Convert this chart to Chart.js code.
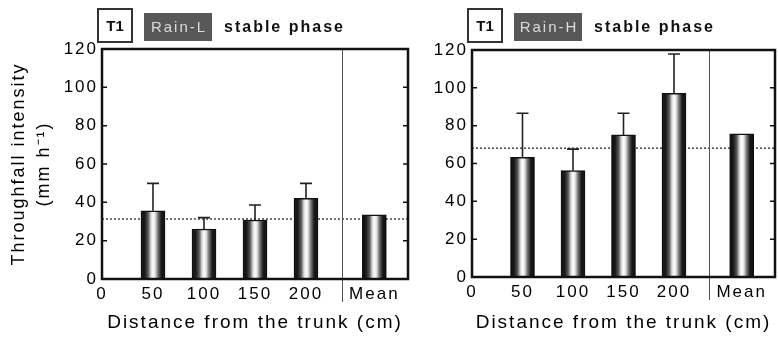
<!DOCTYPE html>
<html>
<head>
<meta charset="utf-8">
<title>Throughfall intensity - stable phase</title>
<script src="https://cdn.jsdelivr.net/npm/chart.js@4.4.1/dist/chart.umd.min.js"></script>
<style>
    body { margin: 0; background: #fff; }
    #wrap { position: relative; width: 778px; height: 339px; }
    canvas { position: absolute; top: 0; }
</style>
</head>
<body>
<div id="wrap">
    <canvas id="chartL" width="420" height="339" style="left:0"></canvas>
    <canvas id="chartH" width="358" height="339" style="left:420px"></canvas>
</div>
<script>
// Distances from the trunk (cm) and axis ticks
const distances = [50, 100, 150, 200];
const xTickValues = [0, 50, 100, 150, 200];
const yTickValues = [0, 20, 40, 60, 80, 100, 120];
const meanLabel = 'Mean';
const meanPos = 267;     // Mean bar sits right of the divider
const dividerPos = 235;

// Rain-L: throughfall intensity (mm h-1), SD, overall mean, reference level
const rainLValues = [35.6, 26.1, 30.8, 42.1];
const rainLErrors = [14.3, 5.9, 7.8, 7.8];
const rainLMean = 33.5;
const rainLRef = 31.3;

// Rain-H
const rainHValues = [63.2, 56.3, 75.1, 97.1];
const rainHErrors = [23.4, 11.3, 11.5, 20.8];
const rainHMean = 75.7;
const rainHRef = 68.1;

const FONT = '"Liberation Sans", Arial, Helvetica, sans-serif';
Chart.defaults.font.family = FONT;
Chart.defaults.color = '#000';

// cylinder-like shading for each bar
function barGradient(context) {
    const chart = context.chart;
    const xs = chart.scales.x;
    if (!xs || !context.raw || !chart.chartArea) return '#888';
    const cx = xs.getPixelForValue(context.raw.x);
    if (!isFinite(cx)) return '#888';
    const g = chart.ctx.createLinearGradient(cx - 12, 0, cx + 12, 0);
    g.addColorStop(0, '#0a0a0a');
    g.addColorStop(0.16, '#1c1c1c');
    g.addColorStop(0.3, '#5a5a5a');
    g.addColorStop(0.41, '#d4d4d4');
    g.addColorStop(0.5, '#ffffff');
    g.addColorStop(0.59, '#e2e2e2');
    g.addColorStop(0.7, '#7a7a7a');
    g.addColorStop(0.84, '#1c1c1c');
    g.addColorStop(1, '#0a0a0a');
    return g;
}

function makePanel(canvasId, rainLabel, values, errors, mean, ref, area, showYTitle) {
    const canvas = document.getElementById(canvasId);
    const W = canvas.width, H = canvas.height;

    const bars = distances.map((d, i) => ({ x: d, y: values[i] }));
    bars.push({ x: meanPos, y: mean });

    // divider, error bars, frame, inward ticks and the panel header
    const decor = {
        id: 'decor',
        beforeDraw(chart) {
            chart.ctx.letterSpacing = '2px';
        },
        beforeDatasetsDraw(chart) {
            const { ctx, chartArea, scales } = chart;
            const xp = Math.round(scales.x.getPixelForValue(dividerPos)) + 0.5;
            ctx.save();
            ctx.strokeStyle = '#555';
            ctx.lineWidth = 1;
            ctx.beginPath();
            ctx.moveTo(xp, chartArea.top);
            ctx.lineTo(xp, chartArea.bottom + 23);
            ctx.stroke();
            ctx.restore();
        },
        afterDatasetsDraw(chart) {
            const { ctx, chartArea, scales } = chart;
            const xs = scales.x, ys = scales.y;
            ctx.save();

            // one-sided error bars
            ctx.strokeStyle = '#222';
            ctx.lineWidth = 1.6;
            distances.forEach((d, i) => {
                const xp = xs.getPixelForValue(d);
                const y0 = ys.getPixelForValue(values[i]);
                const y1 = ys.getPixelForValue(values[i] + errors[i]);
                ctx.beginPath();
                ctx.moveTo(xp, y0);
                ctx.lineTo(xp, y1);
                ctx.moveTo(xp - 6, y1);
                ctx.lineTo(xp + 6, y1);
                ctx.stroke();
            });

            // frame
            ctx.strokeStyle = '#111';
            ctx.lineWidth = 2.5;
            ctx.strokeRect(chartArea.left, chartArea.top, chartArea.right - chartArea.left, chartArea.bottom - chartArea.top);

            // tick marks pointing inward on both sides
            ctx.lineWidth = 1.5;
            ys.ticks.forEach(t => {
                const yp = ys.getPixelForValue(t.value);
                if (t.value === 0 || t.value === 120) return;
                ctx.beginPath();
                ctx.moveTo(chartArea.left, yp);
                ctx.lineTo(chartArea.left + 5, yp);
                ctx.moveTo(chartArea.right, yp);
                ctx.lineTo(chartArea.right - 5, yp);
                ctx.stroke();
            });

            // header: T1 | Rain-x | stable phase
            const L = chartArea.left;
            ctx.letterSpacing = '0px';
            ctx.strokeStyle = '#333';
            ctx.lineWidth = 2;
            ctx.strokeRect(L - 4, 9, 34, 33);
            ctx.fillStyle = '#111';
            ctx.font = 'bold 15px ' + FONT;
            ctx.textAlign = 'center';
            ctx.textBaseline = 'middle';
            ctx.fillText('T1', L + 13, 27);

            ctx.fillStyle = '#585858';
            ctx.fillRect(L + 42, 13, 68, 28);
            ctx.letterSpacing = '2px';
            ctx.fillStyle = '#dcdcdc';
            ctx.font = '15px ' + FONT;
            ctx.fillText(rainLabel, L + 77, 28);

            ctx.fillStyle = '#111';
            ctx.font = 'bold 16px ' + FONT;
            ctx.textAlign = 'left';
            ctx.fillText('stable phase', L + 122, 28);
            ctx.restore();
        }
    };

    return new Chart(canvas, {
        data: {
            datasets: [{
                type: 'bar',
                data: bars,
                backgroundColor: barGradient,
                borderColor: '#111',
                borderWidth: 1.5,
                barThickness: 24,
                order: 1
            }, {
                type: 'line',
                data: [{ x: 0, y: ref }, { x: 300, y: ref }],
                borderColor: '#444',
                borderWidth: 1.5,
                borderDash: [2, 2],
                pointRadius: 0,
                order: 2
            }]
        },
        options: {
            responsive: false,
            animation: false,
            devicePixelRatio: 1,
            layout: {
                padding: { top: area.top, right: W - area.right, bottom: 0, left: 0 }
            },
            plugins: {
                legend: { display: false },
                tooltip: { enabled: false }
            },
            scales: {
                x: {
                    type: 'linear',
                    min: 0,
                    max: 300,
                    offset: false,
                    grid: { display: false, drawTicks: false, offset: false },
                    border: { display: false },
                    afterBuildTicks: function(scale) {
                        scale.ticks = xTickValues.concat([meanPos]).map(v => ({ value: v }));
                    },
                    afterFit: function(scale) { scale.height = H - area.bottom; },
                    ticks: {
                        autoSkip: false,
                        maxRotation: 0,
                        padding: 5,
                        font: { size: 17 },
                        callback: function(value) { return value === meanPos ? meanLabel : value; }
                    },
                    title: {
                        display: true,
                        text: 'Distance from the trunk (cm)',
                        font: { size: 19 },
                        padding: { top: 0, bottom: 5 }
                    }
                },
                y: {
                    type: 'linear',
                    min: 0,
                    max: 120,
                    grid: { display: false, drawTicks: false },
                    border: { display: false },
                    afterBuildTicks: function(scale) {
                        scale.ticks = yTickValues.map(v => ({ value: v }));
                    },
                    afterFit: function(scale) { scale.width = area.left; },
                    ticks: {
                        padding: 4,
                        font: { size: 17 }
                    },
                    title: {
                        display: showYTitle,
                        text: ['Throughfall intensity', '(mm h\u207B\u00B9)'],
                        font: { size: 18, lineHeight: 1.39 },
                        padding: { top: 7, bottom: 0 }
                    }
                }
            }
        },
        plugins: [decor]
    });
}

makePanel('chartL', 'Rain-L', rainLValues, rainLErrors, rainLMean, rainLRef,
    { left: 102, top: 49, right: 408, bottom: 279 }, true);
makePanel('chartH', 'Rain-H', rainHValues, rainHErrors, rainHMean, rainHRef,
    { left: 52, top: 50, right: 355, bottom: 277 }, false);
</script>
</body>
</html>
